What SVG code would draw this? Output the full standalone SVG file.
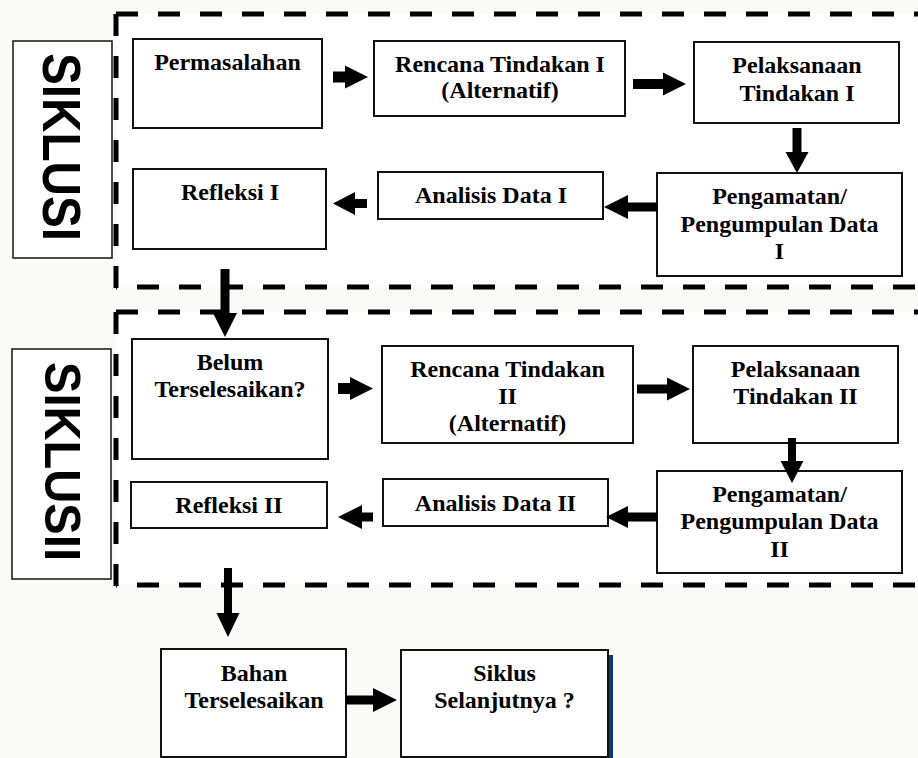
<svg xmlns="http://www.w3.org/2000/svg" width="918" height="758" viewBox="0 0 918 758">
  <style>
    .box { fill: #ffffff; stroke: #111111; stroke-width: 2; }
    .lbl { fill: #ffffff; stroke: #222222; stroke-width: 1.6; }
    .t { font-family: "Liberation Serif", "Times New Roman", serif; font-weight: bold; font-size: 24px; fill: #000000; text-anchor: middle; }
    .side { font-family: "Liberation Sans", Arial, sans-serif; font-weight: bold; fill: #000000; }
    .dash { stroke: #000000; stroke-width: 5; stroke-dasharray: 22 20; fill: none; stroke-linecap: butt; }
    .arr { fill: #000000; stroke: none; }
  </style>

  <rect x="0" y="0" width="918" height="758" fill="#fafaf9"/>
  <rect x="116" y="14" width="802" height="273" fill="#ffffff"/>
  <rect x="116" y="312" width="802" height="273" fill="#ffffff"/>

  <!-- cycle frames -->
  <g id="frame-siklus1">
    <line class="dash" x1="116" y1="14" x2="918" y2="14"/>
    <line class="dash" x1="116" y1="14" x2="116" y2="290"/>
    <line class="dash" x1="116" y1="287" x2="918" y2="287" stroke-dashoffset="21"/>
  </g>
  <g id="frame-siklus2">
    <line class="dash" x1="116" y1="312" x2="918" y2="312"/>
    <line class="dash" x1="116" y1="312" x2="116" y2="588"/>
    <line class="dash" x1="116" y1="585" x2="918" y2="585" stroke-dashoffset="21"/>
  </g>

  <!-- side labels -->
  <g id="label-siklus1">
    <rect class="lbl" x="13" y="41" width="99" height="217"/>
    <text class="side" font-size="53" transform="translate(43,53) rotate(90)" x="0" y="0" textLength="188" lengthAdjust="spacingAndGlyphs">SIKLUSI</text>
  </g>
  <g id="label-siklus2">
    <rect class="lbl" x="12" y="349" width="99" height="230"/>
    <text class="side" font-size="50" transform="translate(45,362) rotate(90)" x="0" y="0" textLength="199" lengthAdjust="spacingAndGlyphs">SIKLUSII</text>
  </g>

  <!-- Cycle I nodes -->
  <g id="permasalahan">
    <rect class="box" x="133" y="39" width="189" height="89"/>
    <text class="t" x="227.5" y="70">Permasalahan</text>
  </g>
  <g id="rencana1">
    <rect class="box" x="374" y="41" width="251" height="75"/>
    <text class="t" x="500" y="72">Rencana Tindakan I</text>
    <text class="t" x="500" y="98">(Alternatif)</text>
  </g>
  <g id="pelaksanaan1">
    <rect class="box" x="694" y="42" width="205" height="81"/>
    <text class="t" x="797" y="73">Pelaksanaan</text>
    <text class="t" x="797" y="101">Tindakan I</text>
  </g>
  <g id="pengamatan1">
    <rect class="box" x="657" y="173" width="245" height="103"/>
    <text class="t" x="779.5" y="204">Pengamatan/</text>
    <text class="t" x="779.5" y="232">Pengumpulan Data</text>
    <text class="t" x="779.5" y="259">I</text>
  </g>
  <g id="analisis1">
    <rect class="box" x="378" y="172" width="225" height="47"/>
    <text class="t" x="491" y="203">Analisis Data I</text>
  </g>
  <g id="refleksi1">
    <rect class="box" x="133" y="169" width="193" height="80"/>
    <text class="t" x="230" y="200">Refleksi I</text>
  </g>

  <!-- Cycle II nodes -->
  <g id="belum">
    <rect class="box" x="132" y="339" width="196" height="120"/>
    <text class="t" x="230" y="370">Belum</text>
    <text class="t" x="230" y="397">Terselesaikan?</text>
  </g>
  <g id="rencana2">
    <rect class="box" x="382" y="346" width="251" height="97"/>
    <text class="t" x="507.5" y="377">Rencana Tindakan</text>
    <text class="t" x="507.5" y="404">II</text>
    <text class="t" x="507.5" y="431">(Alternatif)</text>
  </g>
  <g id="pelaksanaan2">
    <rect class="box" x="693" y="346" width="205" height="97"/>
    <text class="t" x="795.5" y="377">Pelaksanaan</text>
    <text class="t" x="795.5" y="404">Tindakan II</text>
  </g>
  <g id="pengamatan2">
    <rect class="box" x="657" y="471" width="245" height="102"/>
    <text class="t" x="779.5" y="502">Pengamatan/</text>
    <text class="t" x="779.5" y="529">Pengumpulan Data</text>
    <text class="t" x="779.5" y="557">II</text>
  </g>
  <g id="analisis2">
    <rect class="box" x="383" y="479" width="225" height="47"/>
    <text class="t" x="495.5" y="511">Analisis Data II</text>
  </g>
  <g id="refleksi2">
    <rect class="box" x="131" y="482" width="196" height="46"/>
    <text class="t" x="229" y="513">Refleksi II</text>
  </g>

  <!-- Final nodes -->
  <g id="bahan">
    <rect class="box" x="161" y="649" width="185" height="108"/>
    <text class="t" x="254" y="681">Bahan</text>
    <text class="t" x="254" y="708">Terselesaikan</text>
  </g>
  <g id="siklus-selanjutnya">
    <rect x="608" y="655" width="5" height="103" fill="#0b3a6f"/>
    <rect class="box" x="401" y="650" width="207" height="107"/>
    <text class="t" x="504.5" y="681">Siklus</text>
    <text class="t" x="504.5" y="708">Selanjutnya ?</text>
  </g>

  <!-- connectors (block arrows) -->
  <g id="connectors">
    <polygon class="arr" points="333,71.5 345,71.5 345,65.5 368,77 345,88.5 345,82.5 333,82.5"/>
    <polygon class="arr" points="633,79 663,79 663,72.5 686,84 663,95.5 663,89 633,89"/>
    <polygon class="arr" points="792.5,128 801.5,128 801.5,152 808.5,152 797,173 785.5,152 792.5,152"/>
    <polygon class="arr" points="657,202.5 628,202.5 628,195 604,207 628,219 628,211.5 657,211.5"/>
    <polygon class="arr" points="367,199 355,199 355,192 333,203.5 355,215 355,208 367,208"/>
    <polygon class="arr" points="220.5,269 229.5,269 229.5,313 237,313 225,337 213,313 220.5,313"/>
    <polygon class="arr" points="338,383 350,383 350,377 373,388.5 350,400 350,394 338,394"/>
    <polygon class="arr" points="637,384.5 667,384.5 667,377.5 690,389 667,400.5 667,393.5 637,393.5"/>
    <polygon class="arr" points="788,438 796,438 796,461 803.5,461 792,483 780.5,461 788,461"/>
    <polygon class="arr" points="657,512.5 628,512.5 628,506 606,517 628,528 628,521.5 657,521.5"/>
    <polygon class="arr" points="373,512.5 362,512.5 362,505 338,517 362,529 362,521.5 373,521.5"/>
    <polygon class="arr" points="224,568 232,568 232,613 239.5,613 228,637 216.5,613 224,613"/>
    <polygon class="arr" points="346,695.5 373,695.5 373,688 397,700 373,712 373,704.5 346,704.5"/>
  </g>
</svg>
